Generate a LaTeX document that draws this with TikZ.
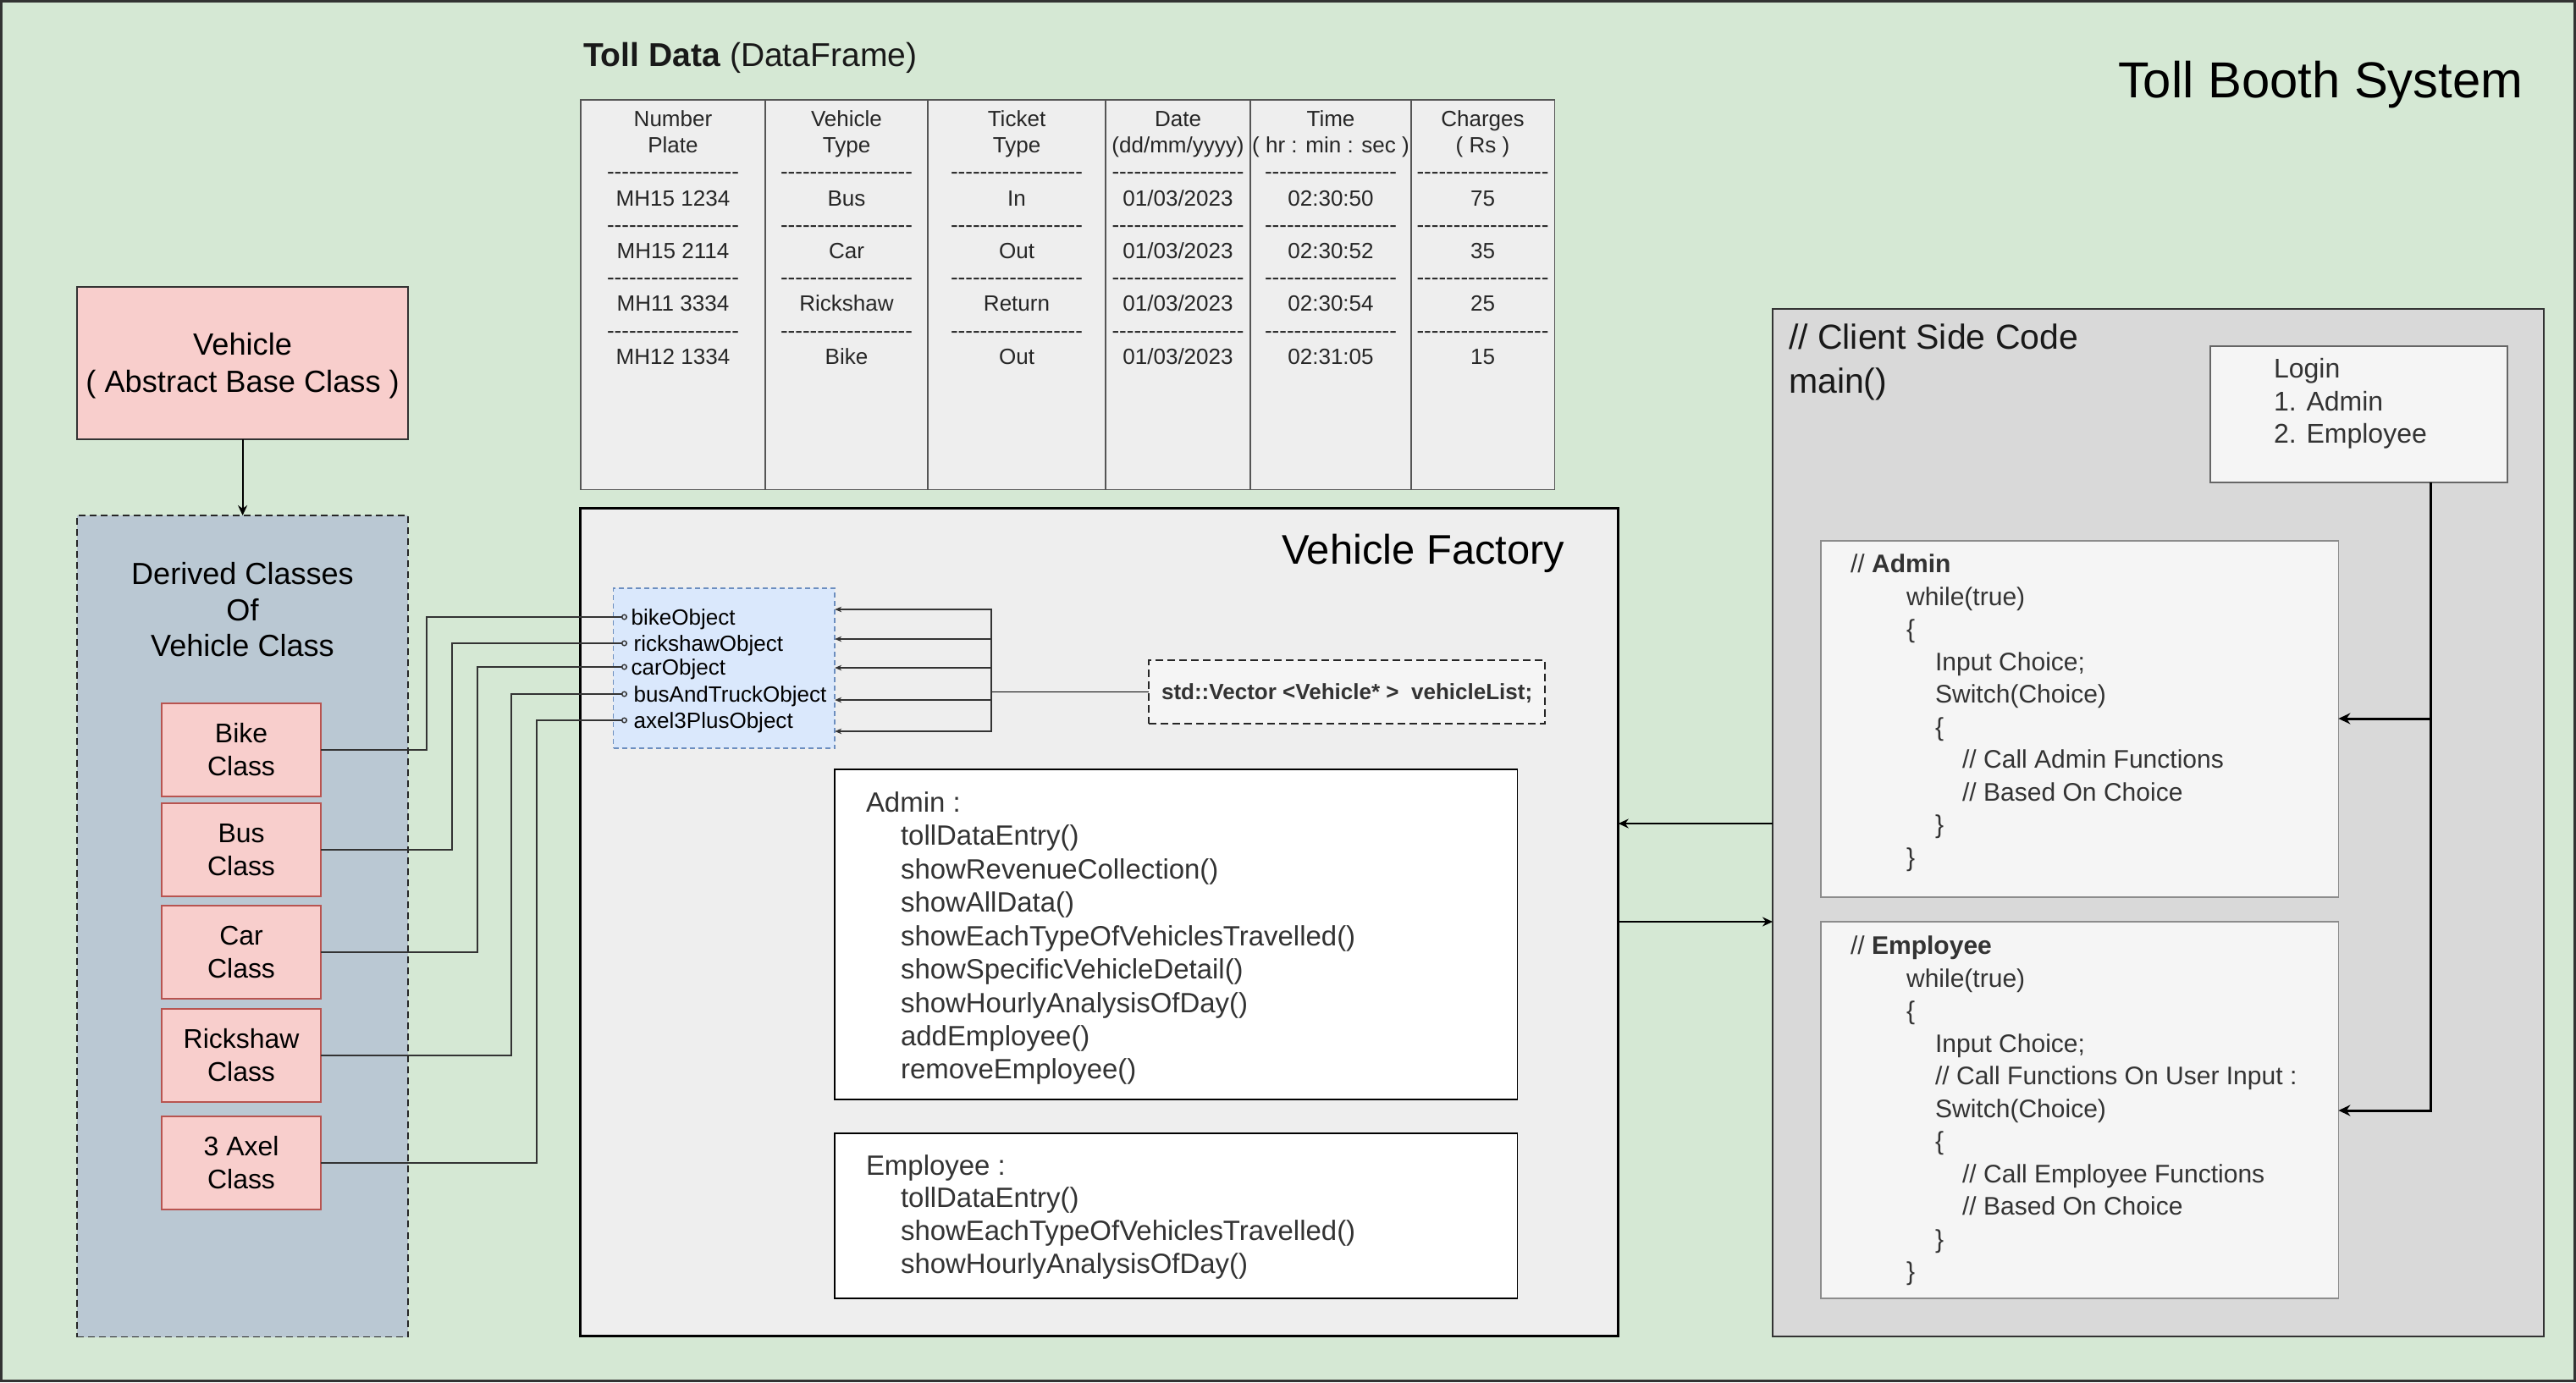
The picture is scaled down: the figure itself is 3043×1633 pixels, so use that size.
\documentclass[tikz,border=0pt]{standalone}
\usepackage{fontspec}
\setmainfont{Liberation Sans}
\usetikzlibrary{arrows.meta}
\definecolor{bgc}{HTML}{D5E8D4}
\definecolor{dark}{HTML}{333333}
\definecolor{ink}{HTML}{333333}
\definecolor{tfill}{HTML}{EEEEEE}
\definecolor{tline}{HTML}{555555}
\definecolor{pinkf}{HTML}{F8CECC}
\definecolor{pinkd}{HTML}{B85450}
\definecolor{slate}{HTML}{BAC8D3}
\definecolor{bluef}{HTML}{DAE8FC}
\definecolor{blued}{HTML}{6C8EBF}
\definecolor{lgray}{HTML}{F5F5F5}
\definecolor{cgray}{HTML}{D9D9D9}
\definecolor{mgray}{HTML}{666666}
\definecolor{bgray}{HTML}{8C8C8C}
\newcommand\hy{\mbox{-}}
\newcommand\dashline{\hy\hy\hy\hy\hy\hy\hy\hy\hy\hy\hy\hy\hy\hy\hy\hy\hy\hy}
\newcommand\ind[1]{\hspace*{#1cm}}
\begin{document}
\begin{tikzpicture}[x=0.01cm,y=-0.01cm,
  box/.style={anchor=north west,inner sep=0pt,outer sep=0pt},
  lbl/.style={anchor=base west,inner sep=0pt,outer sep=0pt},
  tcol/.style={anchor=base,inner sep=0pt,outer sep=0pt,text=black!85,font=\fontsize{7.40}{8.88}\selectfont},
  obj/.style={anchor=west,inner sep=0pt,inner xsep=0.04cm,text height=0.187cm,text depth=0cm,font=\fontsize{7.40}{8.88}\selectfont},
  cls/.style={box,draw=pinkd,fill=pinkf,line width=0.45pt,minimum width=1.88cm,minimum height=1.10cm,
    text height=0.1116cm,text depth=0.2784cm,font=\fontsize{9.08}{11.10}\selectfont},
  conn/.style={draw=dark,line width=0.4pt,-{Circle[open,length=0.07cm]}},
  thinarr/.style={draw=dark,line width=0.4pt,-{Stealth[length=0.08cm,width=0.065cm]}},
  marr/.style={draw=black,line width=0.6pt,-{Stealth[length=0.12cm,width=0.11cm]}},
  larr/.style={draw=black,line width=0.85pt,-{Stealth[length=0.14cm,width=0.13cm]}}
]
\useasboundingbox (0,0) rectangle (3043,1633);
\fill[bgc] (0,0) rectangle (3043,1633);
\draw[dark,line width=0.85pt] (1.5,1.5) rectangle (3041.5,1631.5);

% title
\node[lbl,font=\fontsize{17.0}{20}\selectfont] (title) at (2502,115) {Toll Booth System};

% toll data table
\node[lbl,font=\fontsize{11.10}{13}\selectfont,text=black!90] (tdlabel) at (689,78) {\textbf{Toll Data} (DataFrame)};
\node[box,fill=tfill,draw=tline,line width=0.4pt,minimum width=11.50cm,minimum height=4.60cm] (table) at (686,118) {};
\foreach \xx in {904,1096,1306,1477,1667}
  \draw[tline,line width=0.4pt] (table.north -| \xx,0) -- (table.south -| \xx,0);
\node[tcol] (col1) at (795,149.4) {\begin{tabular}[t]{@{}c@{}}Number\\Plate\\\dashline\\MH15 1234\\\dashline\\MH15 2114\\\dashline\\MH11 3334\\\dashline\\MH12 1334\end{tabular}};
\node[tcol] (col2) at (1000,149.4) {\begin{tabular}[t]{@{}c@{}}Vehicle\\Type\\\dashline\\Bus\\\dashline\\Car\\\dashline\\Rickshaw\\\dashline\\Bike\end{tabular}};
\node[tcol] (col3) at (1201,149.4) {\begin{tabular}[t]{@{}c@{}}Ticket\\Type\\\dashline\\In\\\dashline\\Out\\\dashline\\Return\\\dashline\\Out\end{tabular}};
\node[tcol] (col4) at (1391.5,149.4) {\begin{tabular}[t]{@{}c@{}}Date\\(dd/mm/yyyy)\\\dashline\\01/03/2023\\\dashline\\01/03/2023\\\dashline\\01/03/2023\\\dashline\\01/03/2023\end{tabular}};
\node[tcol] (col5) at (1572,149.4) {\begin{tabular}[t]{@{}c@{}}Time\\( hr : min : sec )\\\dashline\\02:30:50\\\dashline\\02:30:52\\\dashline\\02:30:54\\\dashline\\02:31:05\end{tabular}};
\node[tcol] (col6) at (1751.5,149.4) {\begin{tabular}[t]{@{}c@{}}Charges\\( Rs )\\\dashline\\75\\\dashline\\35\\\dashline\\25\\\dashline\\15\end{tabular}};

% vehicle factory
\node[box,fill=tfill,draw=black,line width=0.85pt,minimum width=12.26cm,minimum height=9.78cm] (factory) at (685,600) {};
\node[lbl,font=\fontsize{13.9}{16}\selectfont] (vftitle) at (1514,666) {Vehicle Factory};
\node[box,fill=bluef,draw=blued,line width=0.45pt,dash pattern=on 0.06cm off 0.04cm,minimum width=2.615cm,minimum height=1.89cm] (objbox) at (724.5,695) {};
\node[obj] (o1) at (741,729) {bikeObject};
\node[obj,inner xsep=0.07cm] (o2) at (741,760) {rickshawObject};
\node[obj] (o3) at (741,788) {carObject};
\node[obj,inner xsep=0.07cm] (o4) at (741,820) {busAndTruckObject};
\node[obj,inner xsep=0.07cm] (o5) at (741,851) {axel3PlusObject};
\node[box,fill=lgray,draw=black!85,line width=0.6pt,dash pattern=on 0.09cm off 0.05cm,minimum width=4.68cm,minimum height=0.75cm,
  text=ink,text height=0.187cm,text depth=0cm,font=\fontsize{7.40}{8.88}\selectfont\bfseries] (vec) at (1357,780) {std::Vector <Vehicle* > ~vehicleList;};
\draw[draw=black,line width=0.5pt] (vec.west) -- (vec.west -| 1171,0) coordinate (br);
\foreach \yy in {720,755,789,827,864}
  \draw[thinarr] (br) |- (objbox.east |- 0,\yy);

\node[box,fill=white,draw=black,line width=0.45pt,minimum width=8.06cm,minimum height=3.90cm] (admF) at (986,909) {};
\node[lbl,text=ink,font=\fontsize{9.37}{11.21}\selectfont] (admFtext) at (1023,959.5) {\begin{tabular}[t]{@{}l@{}}Admin :\\
\ind{0.41}tollDataEntry()\\
\ind{0.41}showRevenueCollection()\\
\ind{0.41}showAllData()\\
\ind{0.41}showEachTypeOfVehiclesTravelled()\\
\ind{0.41}showSpecificVehicleDetail()\\
\ind{0.41}showHourlyAnalysisOfDay()\\
\ind{0.41}addEmployee()\\
\ind{0.41}removeEmployee()\end{tabular}};
\node[box,fill=white,draw=black,line width=0.45pt,minimum width=8.06cm,minimum height=1.95cm] (empF) at (986,1339) {};
\node[lbl,text=ink,font=\fontsize{9.37}{11.0}\selectfont] (empFtext) at (1023,1388) {\begin{tabular}[t]{@{}l@{}}Employee :\\
\ind{0.41}tollDataEntry()\\
\ind{0.41}showEachTypeOfVehiclesTravelled()\\
\ind{0.41}showHourlyAnalysisOfDay()\end{tabular}};

% client side
\node[box,fill=cgray,draw=dark,line width=0.6pt,minimum width=9.10cm,minimum height=12.13cm] (client) at (2094,365) {};
\node[lbl,text=black!90,font=\fontsize{11.67}{14.80}\selectfont] (clienttitle) at (2113,412.8) {\begin{tabular}[t]{@{}l@{}}// Client Side Code\\main()\end{tabular}};
\node[box,fill=lgray,draw=mgray,line width=0.7pt,minimum width=3.51cm,minimum height=1.61cm] (login) at (2611,409) {};
\node[lbl,text=ink,font=\fontsize{9.10}{10.95}\selectfont] (logintext) at (2686,446.5) {\begin{tabular}[t]{@{}l@{}}Login\\1. Admin\\2. Employee\end{tabular}};
\node[box,fill=lgray,draw=bgray,line width=0.5pt,minimum width=6.11cm,minimum height=4.21cm] (admC) at (2151,639) {};
\node[lbl,text=ink,font=\fontsize{8.54}{10.95}\selectfont] (admCtext) at (2186,676.8) {\begin{tabular}[t]{@{}l@{}}// \textbf{Admin}\\
\ind{0.66}while(true)\\
\ind{0.66}\{\\
\ind{1.00}Input Choice;\\
\ind{1.00}Switch(Choice)\\
\ind{1.00}\{\\
\ind{1.32}// Call Admin Functions\\
\ind{1.32}// Based On Choice\\
\ind{1.00}\}\\
\ind{0.66}\}\end{tabular}};
\node[box,fill=lgray,draw=bgray,line width=0.5pt,minimum width=6.11cm,minimum height=4.45cm] (empC) at (2151,1089) {};
\node[lbl,text=ink,font=\fontsize{8.54}{10.95}\selectfont] (empCtext) at (2186,1127.8) {\begin{tabular}[t]{@{}l@{}}// \textbf{Employee}\\
\ind{0.66}while(true)\\
\ind{0.66}\{\\
\ind{1.00}Input Choice;\\
\ind{1.00}// Call Functions On User Input :\\
\ind{1.00}Switch(Choice)\\
\ind{1.00}\{\\
\ind{1.32}// Call Employee Functions\\
\ind{1.32}// Based On Choice\\
\ind{1.00}\}\\
\ind{0.66}\}\end{tabular}};
\draw[larr] (login.south -| 2871,0) |- (admC.east |- 0,849);
\draw[larr] (login.south -| 2871,0) |- (empC.east |- 0,1312);
\draw[marr] (client.west |- 0,973) -- (factory.east |- 0,973);
\draw[marr] (factory.east |- 0,1089) -- (client.west |- 0,1089);

% left side
\node[box,fill=pinkf,draw=dark,line width=0.5pt,minimum width=3.91cm,minimum height=1.80cm,
  text height=0.126cm,text depth=0.314cm,font=\fontsize{10.3}{12.52}\selectfont] (veh) at (91,339)
  {\begin{tabular}[t]{@{}c@{}}Vehicle\\( Abstract Base Class )\end{tabular}};
\node[box,fill=slate,draw=black!85,line width=0.5pt,dash pattern=on 0.08cm off 0.05cm,minimum width=3.91cm,minimum height=9.70cm] (derived) at (91,609) {};
\node[anchor=base,inner sep=0pt,font=\fontsize{10.26}{12.09}\selectfont] (dertext) at (286.5,690.6)
  {\begin{tabular}[t]{@{}c@{}}Derived Classes\\Of\\Vehicle Class\end{tabular}};
\draw[marr] (veh.south) -- (derived.north);
\node[cls] (bike) at (191,831) {\begin{tabular}[t]{@{}c@{}}Bike\\Class\end{tabular}};
\node[cls] (bus) at (191,949) {\begin{tabular}[t]{@{}c@{}}Bus\\Class\end{tabular}};
\node[cls] (car) at (191,1070) {\begin{tabular}[t]{@{}c@{}}Car\\Class\end{tabular}};
\node[cls] (rick) at (191,1192) {\begin{tabular}[t]{@{}c@{}}Rickshaw\\Class\end{tabular}};
\node[cls] (axel) at (191,1319) {\begin{tabular}[t]{@{}c@{}}3 Axel\\Class\end{tabular}};
\draw[conn] (bike.east) -| (504,729) -- (o1.west);
\draw[conn] (bus.east) -| (534,760) -- (o2.west);
\draw[conn] (car.east) -| (564,788) -- (o3.west);
\draw[conn] (rick.east) -| (604,820) -- (o4.west);
\draw[conn] (axel.east) -| (634,851) -- (o5.west);
\end{tikzpicture}
\end{document}
